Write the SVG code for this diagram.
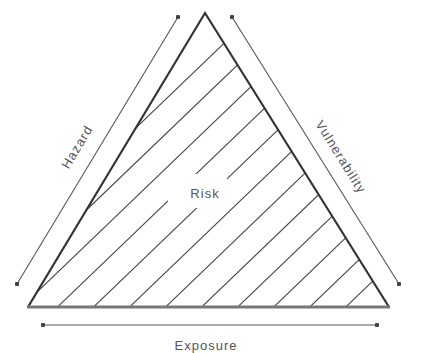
<svg xmlns="http://www.w3.org/2000/svg" width="421" height="353" viewBox="0 0 421 353">
<defs>
<style>
.lbl{font-family:"Liberation Sans",Arial,sans-serif;font-size:13px;fill:#555;letter-spacing:1px;text-anchor:middle}
.hatch{stroke:#444;stroke-width:1.1;fill:none}
.arr{stroke:#555;stroke-width:1.1;fill:none;marker-start:url(#dot);marker-end:url(#dot)}
</style>
<marker id="dot" viewBox="0 0 6 6" refX="3" refY="3" markerWidth="4.5" markerHeight="4.5" markerUnits="userSpaceOnUse">
<circle cx="3" cy="3" r="3" fill="#444"/>
</marker>
<clipPath id="tri"><polygon points="205,13 28,307 389,307"/></clipPath>
</defs>
<rect width="421" height="353" fill="#fff"/>
<g id="hatching" clip-path="url(#tri)">
<line class="hatch" x1="0" y1="639" x2="421" y2="234.8"/>
<line class="hatch" x1="0" y1="604.4" x2="421" y2="200.2"/>
<line class="hatch" x1="0" y1="569.8" x2="421" y2="165.6"/>
<line class="hatch" x1="0" y1="535.2" x2="421" y2="131"/>
<line class="hatch" x1="0" y1="500.6" x2="421" y2="96.4"/>
<line class="hatch" x1="0" y1="466" x2="421" y2="61.8"/>
<line class="hatch" x1="0" y1="431.4" x2="421" y2="27.2"/>
<line class="hatch" x1="0" y1="396.8" x2="421" y2="-7.4"/>
<line class="hatch" x1="0" y1="362.2" x2="421" y2="-42"/>
<line class="hatch" x1="0" y1="327.6" x2="421" y2="-76.6"/>
<line class="hatch" x1="0" y1="293" x2="421" y2="-111.2"/>
<line class="hatch" x1="0" y1="258.4" x2="421" y2="-145.8"/>
<rect x="168" y="174" width="59" height="34" fill="#fff"/>
</g>
<g id="triangle">
<polyline points="28,307 205,13 389,307" fill="none" stroke="#333" stroke-width="2.2" stroke-linejoin="miter"/>
<line x1="27" y1="307" x2="390" y2="307" stroke="#777" stroke-width="3"/>
</g>
<g id="connectors">
<line class="arr" x1="178" y1="17" x2="17" y2="284"/>
<line class="arr" x1="232" y1="17" x2="399" y2="284"/>
<line class="arr" x1="43" y1="325" x2="377" y2="325" stroke="#777" stroke-width="1.8"/>
</g>
<g id="node-risk"><text class="lbl" x="205" y="198">Risk</text></g>
<g id="node-hazard"><text class="lbl" transform="translate(77,147) rotate(-59)" x="0" y="4.5">Hazard</text></g>
<g id="node-vulnerability"><text class="lbl" transform="translate(341,157) rotate(58)" x="0" y="4.5">Vulnerability</text></g>
<g id="node-exposure"><text class="lbl" x="206" y="350" letter-spacing="2">Exposure</text></g>
</svg>
